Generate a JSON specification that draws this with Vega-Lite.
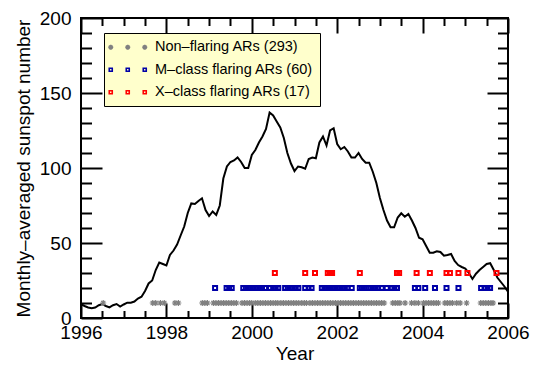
{
  "$schema": "https://vega.github.io/schema/vega-lite/v6.json",
  "width": 427,
  "height": 300,
  "autosize": "none",
  "padding": {"left": 81, "top": 18, "right": 26, "bottom": 47},
  "background": "white",
  "config": {
    "view": {"stroke": "black", "strokeWidth": 2},
    "font": "Liberation Sans",
    "axis": {"domain": false, "grid": false, "ticks": true, "tickColor": "black", "tickWidth": 2, "tickOpacity": 1, "labelColor": "black", "titleColor": "black", "labelFont": "Liberation Sans", "titleFont": "Liberation Sans", "labelFontSize": 19, "titleFontSize": 19, "titleFontWeight": "normal", "labelFlush": false, "labelOverlap": false, "zindex": 1}
  },
  "datasets": {
    "ssn": [
      {"t": 1996.000, "ssn": 9.3}, {"t": 1996.083, "ssn": 8}, {"t": 1996.167, "ssn": 7}, {"t": 1996.250, "ssn": 6.5},
      {"t": 1996.333, "ssn": 7}, {"t": 1996.417, "ssn": 8.5}, {"t": 1996.500, "ssn": 9.3}, {"t": 1996.583, "ssn": 8},
      {"t": 1996.667, "ssn": 7.1}, {"t": 1996.750, "ssn": 8.5}, {"t": 1996.833, "ssn": 9.3}, {"t": 1996.917, "ssn": 7.6},
      {"t": 1997.000, "ssn": 9}, {"t": 1997.083, "ssn": 10.2}, {"t": 1997.167, "ssn": 10.2}, {"t": 1997.250, "ssn": 11},
      {"t": 1997.333, "ssn": 13}, {"t": 1997.417, "ssn": 14.2}, {"t": 1997.500, "ssn": 18}, {"t": 1997.583, "ssn": 23},
      {"t": 1997.667, "ssn": 25}, {"t": 1997.750, "ssn": 32}, {"t": 1997.833, "ssn": 37}, {"t": 1997.917, "ssn": 36},
      {"t": 1998.000, "ssn": 35}, {"t": 1998.083, "ssn": 42}, {"t": 1998.167, "ssn": 45}, {"t": 1998.250, "ssn": 49},
      {"t": 1998.333, "ssn": 55}, {"t": 1998.417, "ssn": 61}, {"t": 1998.500, "ssn": 70}, {"t": 1998.583, "ssn": 76.4},
      {"t": 1998.667, "ssn": 76}, {"t": 1998.750, "ssn": 78}, {"t": 1998.833, "ssn": 79.8}, {"t": 1998.917, "ssn": 72},
      {"t": 1999.000, "ssn": 68}, {"t": 1999.083, "ssn": 71}, {"t": 1999.167, "ssn": 68.7}, {"t": 1999.250, "ssn": 75},
      {"t": 1999.333, "ssn": 93}, {"t": 1999.417, "ssn": 101}, {"t": 1999.500, "ssn": 104}, {"t": 1999.583, "ssn": 105},
      {"t": 1999.667, "ssn": 107}, {"t": 1999.750, "ssn": 104}, {"t": 1999.833, "ssn": 100}, {"t": 1999.917, "ssn": 100},
      {"t": 2000.000, "ssn": 108.7}, {"t": 2000.083, "ssn": 112}, {"t": 2000.167, "ssn": 117}, {"t": 2000.250, "ssn": 121},
      {"t": 2000.333, "ssn": 126}, {"t": 2000.417, "ssn": 137}, {"t": 2000.500, "ssn": 135}, {"t": 2000.583, "ssn": 131},
      {"t": 2000.667, "ssn": 127}, {"t": 2000.750, "ssn": 120}, {"t": 2000.833, "ssn": 110}, {"t": 2000.917, "ssn": 103},
      {"t": 2001.000, "ssn": 98}, {"t": 2001.083, "ssn": 101}, {"t": 2001.167, "ssn": 100.5}, {"t": 2001.250, "ssn": 99.5},
      {"t": 2001.333, "ssn": 106}, {"t": 2001.417, "ssn": 107}, {"t": 2001.500, "ssn": 106.5}, {"t": 2001.583, "ssn": 117},
      {"t": 2001.667, "ssn": 121}, {"t": 2001.750, "ssn": 115}, {"t": 2001.833, "ssn": 125}, {"t": 2001.917, "ssn": 126.5},
      {"t": 2002.000, "ssn": 116}, {"t": 2002.083, "ssn": 112.5}, {"t": 2002.167, "ssn": 114}, {"t": 2002.250, "ssn": 111},
      {"t": 2002.333, "ssn": 107}, {"t": 2002.417, "ssn": 107}, {"t": 2002.500, "ssn": 110}, {"t": 2002.583, "ssn": 106},
      {"t": 2002.667, "ssn": 103.5}, {"t": 2002.750, "ssn": 103.5}, {"t": 2002.833, "ssn": 97.5}, {"t": 2002.917, "ssn": 90},
      {"t": 2003.000, "ssn": 80}, {"t": 2003.083, "ssn": 72}, {"t": 2003.167, "ssn": 65}, {"t": 2003.250, "ssn": 60.5},
      {"t": 2003.333, "ssn": 60.5}, {"t": 2003.417, "ssn": 67}, {"t": 2003.500, "ssn": 69.8}, {"t": 2003.583, "ssn": 67.5},
      {"t": 2003.667, "ssn": 69.3}, {"t": 2003.750, "ssn": 65}, {"t": 2003.833, "ssn": 60}, {"t": 2003.917, "ssn": 53.5},
      {"t": 2004.000, "ssn": 52.5}, {"t": 2004.083, "ssn": 48}, {"t": 2004.167, "ssn": 43.5}, {"t": 2004.250, "ssn": 43.5},
      {"t": 2004.333, "ssn": 44.5}, {"t": 2004.417, "ssn": 44}, {"t": 2004.500, "ssn": 41.5}, {"t": 2004.583, "ssn": 42},
      {"t": 2004.667, "ssn": 42.7}, {"t": 2004.750, "ssn": 38}, {"t": 2004.833, "ssn": 35.3}, {"t": 2004.917, "ssn": 34},
      {"t": 2005.000, "ssn": 33}, {"t": 2005.083, "ssn": 30}, {"t": 2005.167, "ssn": 26}, {"t": 2005.250, "ssn": 29.5},
      {"t": 2005.333, "ssn": 32}, {"t": 2005.417, "ssn": 34}, {"t": 2005.500, "ssn": 36}, {"t": 2005.583, "ssn": 36.5},
      {"t": 2005.667, "ssn": 32}, {"t": 2005.750, "ssn": 27}, {"t": 2005.833, "ssn": 24}, {"t": 2005.917, "ssn": 21},
      {"t": 2006.000, "ssn": 17.5}
    ],
    "ars": [
      {"t": 1996.52, "v": 10, "c": "Non–flaring ARs (293)"},
      {"t": 1997.68, "v": 10, "c": "Non–flaring ARs (293)"}, {"t": 1997.75, "v": 10, "c": "Non–flaring ARs (293)"},
      {"t": 1997.86, "v": 10, "c": "Non–flaring ARs (293)"}, {"t": 1997.95, "v": 10, "c": "Non–flaring ARs (293)"},
      {"t": 1998.20, "v": 10, "c": "Non–flaring ARs (293)"}, {"t": 1998.28, "v": 10, "c": "Non–flaring ARs (293)"},
      {"t": 1998.84, "v": 10, "c": "Non–flaring ARs (293)"}, {"t": 1998.90, "v": 10, "c": "Non–flaring ARs (293)"},
      {"t": 1998.96, "v": 10, "c": "Non–flaring ARs (293)"},
      {"t": 1999.10, "v": 10, "c": "Non–flaring ARs (293)"}, {"t": 1999.16, "v": 10, "c": "Non–flaring ARs (293)"},
      {"t": 1999.22, "v": 10, "c": "Non–flaring ARs (293)"}, {"t": 1999.28, "v": 10, "c": "Non–flaring ARs (293)"},
      {"t": 1999.34, "v": 10, "c": "Non–flaring ARs (293)"}, {"t": 1999.40, "v": 10, "c": "Non–flaring ARs (293)"},
      {"t": 1999.46, "v": 10, "c": "Non–flaring ARs (293)"}, {"t": 1999.52, "v": 10, "c": "Non–flaring ARs (293)"},
      {"t": 1999.58, "v": 10, "c": "Non–flaring ARs (293)"}, {"t": 1999.64, "v": 10, "c": "Non–flaring ARs (293)"},
      {"t": 1999.77, "v": 10, "c": "Non–flaring ARs (293)"}, {"t": 1999.83, "v": 10, "c": "Non–flaring ARs (293)"},
      {"t": 1999.89, "v": 10, "c": "Non–flaring ARs (293)"}, {"t": 1999.95, "v": 10, "c": "Non–flaring ARs (293)"},
      {"t": 2000.00, "v": 10, "c": "Non–flaring ARs (293)"},
      {"t": 2000.08, "v": 10, "c": "Non–flaring ARs (293)"}, {"t": 2000.14, "v": 10, "c": "Non–flaring ARs (293)"},
      {"t": 2000.20, "v": 10, "c": "Non–flaring ARs (293)"}, {"t": 2000.26, "v": 10, "c": "Non–flaring ARs (293)"},
      {"t": 2000.32, "v": 10, "c": "Non–flaring ARs (293)"}, {"t": 2000.38, "v": 10, "c": "Non–flaring ARs (293)"},
      {"t": 2000.44, "v": 10, "c": "Non–flaring ARs (293)"}, {"t": 2000.50, "v": 10, "c": "Non–flaring ARs (293)"},
      {"t": 2000.56, "v": 10, "c": "Non–flaring ARs (293)"}, {"t": 2000.61, "v": 10, "c": "Non–flaring ARs (293)"},
      {"t": 2000.68, "v": 10, "c": "Non–flaring ARs (293)"}, {"t": 2000.74, "v": 10, "c": "Non–flaring ARs (293)"},
      {"t": 2000.80, "v": 10, "c": "Non–flaring ARs (293)"}, {"t": 2000.86, "v": 10, "c": "Non–flaring ARs (293)"},
      {"t": 2000.92, "v": 10, "c": "Non–flaring ARs (293)"}, {"t": 2000.98, "v": 10, "c": "Non–flaring ARs (293)"},
      {"t": 2001.04, "v": 10, "c": "Non–flaring ARs (293)"}, {"t": 2001.10, "v": 10, "c": "Non–flaring ARs (293)"},
      {"t": 2001.17, "v": 10, "c": "Non–flaring ARs (293)"}, {"t": 2001.23, "v": 10, "c": "Non–flaring ARs (293)"},
      {"t": 2001.28, "v": 10, "c": "Non–flaring ARs (293)"}, {"t": 2001.36, "v": 10, "c": "Non–flaring ARs (293)"},
      {"t": 2001.42, "v": 10, "c": "Non–flaring ARs (293)"}, {"t": 2001.48, "v": 10, "c": "Non–flaring ARs (293)"},
      {"t": 2001.54, "v": 10, "c": "Non–flaring ARs (293)"}, {"t": 2001.60, "v": 10, "c": "Non–flaring ARs (293)"},
      {"t": 2001.66, "v": 10, "c": "Non–flaring ARs (293)"}, {"t": 2001.72, "v": 10, "c": "Non–flaring ARs (293)"},
      {"t": 2001.78, "v": 10, "c": "Non–flaring ARs (293)"}, {"t": 2001.84, "v": 10, "c": "Non–flaring ARs (293)"},
      {"t": 2001.90, "v": 10, "c": "Non–flaring ARs (293)"}, {"t": 2001.96, "v": 10, "c": "Non–flaring ARs (293)"},
      {"t": 2002.02, "v": 10, "c": "Non–flaring ARs (293)"}, {"t": 2002.08, "v": 10, "c": "Non–flaring ARs (293)"},
      {"t": 2002.14, "v": 10, "c": "Non–flaring ARs (293)"}, {"t": 2002.20, "v": 10, "c": "Non–flaring ARs (293)"},
      {"t": 2002.26, "v": 10, "c": "Non–flaring ARs (293)"}, {"t": 2002.32, "v": 10, "c": "Non–flaring ARs (293)"},
      {"t": 2002.38, "v": 10, "c": "Non–flaring ARs (293)"}, {"t": 2002.44, "v": 10, "c": "Non–flaring ARs (293)"},
      {"t": 2002.50, "v": 10, "c": "Non–flaring ARs (293)"}, {"t": 2002.56, "v": 10, "c": "Non–flaring ARs (293)"},
      {"t": 2002.62, "v": 10, "c": "Non–flaring ARs (293)"}, {"t": 2002.68, "v": 10, "c": "Non–flaring ARs (293)"},
      {"t": 2002.74, "v": 10, "c": "Non–flaring ARs (293)"}, {"t": 2002.80, "v": 10, "c": "Non–flaring ARs (293)"},
      {"t": 2002.86, "v": 10, "c": "Non–flaring ARs (293)"}, {"t": 2002.92, "v": 10, "c": "Non–flaring ARs (293)"},
      {"t": 2002.98, "v": 10, "c": "Non–flaring ARs (293)"}, {"t": 2003.04, "v": 10, "c": "Non–flaring ARs (293)"},
      {"t": 2003.10, "v": 10, "c": "Non–flaring ARs (293)"},
      {"t": 2003.30, "v": 10, "c": "Non–flaring ARs (293)"}, {"t": 2003.36, "v": 10, "c": "Non–flaring ARs (293)"},
      {"t": 2003.42, "v": 10, "c": "Non–flaring ARs (293)"}, {"t": 2003.47, "v": 10, "c": "Non–flaring ARs (293)"},
      {"t": 2003.59, "v": 10, "c": "Non–flaring ARs (293)"}, {"t": 2003.74, "v": 10, "c": "Non–flaring ARs (293)"},
      {"t": 2003.82, "v": 10, "c": "Non–flaring ARs (293)"}, {"t": 2003.90, "v": 10, "c": "Non–flaring ARs (293)"},
      {"t": 2004.02, "v": 10, "c": "Non–flaring ARs (293)"}, {"t": 2004.08, "v": 10, "c": "Non–flaring ARs (293)"},
      {"t": 2004.14, "v": 10, "c": "Non–flaring ARs (293)"}, {"t": 2004.20, "v": 10, "c": "Non–flaring ARs (293)"},
      {"t": 2004.26, "v": 10, "c": "Non–flaring ARs (293)"}, {"t": 2004.32, "v": 10, "c": "Non–flaring ARs (293)"},
      {"t": 2004.37, "v": 10, "c": "Non–flaring ARs (293)"}, {"t": 2004.52, "v": 10, "c": "Non–flaring ARs (293)"},
      {"t": 2004.58, "v": 10, "c": "Non–flaring ARs (293)"}, {"t": 2004.64, "v": 10, "c": "Non–flaring ARs (293)"},
      {"t": 2004.70, "v": 10, "c": "Non–flaring ARs (293)"}, {"t": 2004.80, "v": 10, "c": "Non–flaring ARs (293)"},
      {"t": 2004.88, "v": 10, "c": "Non–flaring ARs (293)"}, {"t": 2005.03, "v": 10, "c": "Non–flaring ARs (293)"},
      {"t": 2005.36, "v": 10, "c": "Non–flaring ARs (293)"}, {"t": 2005.42, "v": 10, "c": "Non–flaring ARs (293)"},
      {"t": 2005.48, "v": 10, "c": "Non–flaring ARs (293)"}, {"t": 2005.54, "v": 10, "c": "Non–flaring ARs (293)"},
      {"t": 2005.60, "v": 10, "c": "Non–flaring ARs (293)"}, {"t": 2005.65, "v": 10, "c": "Non–flaring ARs (293)"},
      {"t": 1999.14, "v": 20, "c": "M–class flaring ARs (60)"}, {"t": 1999.41, "v": 20, "c": "M–class flaring ARs (60)"},
      {"t": 1999.47, "v": 20, "c": "M–class flaring ARs (60)"}, {"t": 1999.53, "v": 20, "c": "M–class flaring ARs (60)"},
      {"t": 1999.80, "v": 20, "c": "M–class flaring ARs (60)"}, {"t": 1999.86, "v": 20, "c": "M–class flaring ARs (60)"},
      {"t": 1999.92, "v": 20, "c": "M–class flaring ARs (60)"}, {"t": 1999.98, "v": 20, "c": "M–class flaring ARs (60)"},
      {"t": 2000.03, "v": 20, "c": "M–class flaring ARs (60)"}, {"t": 2000.11, "v": 20, "c": "M–class flaring ARs (60)"},
      {"t": 2000.17, "v": 20, "c": "M–class flaring ARs (60)"}, {"t": 2000.24, "v": 20, "c": "M–class flaring ARs (60)"},
      {"t": 2000.31, "v": 20, "c": "M–class flaring ARs (60)"}, {"t": 2000.43, "v": 20, "c": "M–class flaring ARs (60)"},
      {"t": 2000.50, "v": 20, "c": "M–class flaring ARs (60)"}, {"t": 2000.56, "v": 20, "c": "M–class flaring ARs (60)"},
      {"t": 2000.62, "v": 20, "c": "M–class flaring ARs (60)"}, {"t": 2000.78, "v": 20, "c": "M–class flaring ARs (60)"},
      {"t": 2000.84, "v": 20, "c": "M–class flaring ARs (60)"}, {"t": 2000.90, "v": 20, "c": "M–class flaring ARs (60)"},
      {"t": 2000.96, "v": 20, "c": "M–class flaring ARs (60)"}, {"t": 2001.03, "v": 20, "c": "M–class flaring ARs (60)"},
      {"t": 2001.09, "v": 20, "c": "M–class flaring ARs (60)"}, {"t": 2001.25, "v": 20, "c": "M–class flaring ARs (60)"},
      {"t": 2001.33, "v": 20, "c": "M–class flaring ARs (60)"}, {"t": 2001.40, "v": 20, "c": "M–class flaring ARs (60)"},
      {"t": 2001.64, "v": 20, "c": "M–class flaring ARs (60)"}, {"t": 2001.70, "v": 20, "c": "M–class flaring ARs (60)"},
      {"t": 2001.76, "v": 20, "c": "M–class flaring ARs (60)"}, {"t": 2001.82, "v": 20, "c": "M–class flaring ARs (60)"},
      {"t": 2001.88, "v": 20, "c": "M–class flaring ARs (60)"}, {"t": 2001.94, "v": 20, "c": "M–class flaring ARs (60)"},
      {"t": 2002.00, "v": 20, "c": "M–class flaring ARs (60)"}, {"t": 2002.06, "v": 20, "c": "M–class flaring ARs (60)"},
      {"t": 2002.12, "v": 20, "c": "M–class flaring ARs (60)"}, {"t": 2002.18, "v": 20, "c": "M–class flaring ARs (60)"},
      {"t": 2002.24, "v": 20, "c": "M–class flaring ARs (60)"}, {"t": 2002.34, "v": 20, "c": "M–class flaring ARs (60)"},
      {"t": 2002.53, "v": 20, "c": "M–class flaring ARs (60)"}, {"t": 2002.58, "v": 20, "c": "M–class flaring ARs (60)"},
      {"t": 2002.63, "v": 20, "c": "M–class flaring ARs (60)"}, {"t": 2002.68, "v": 20, "c": "M–class flaring ARs (60)"},
      {"t": 2002.73, "v": 20, "c": "M–class flaring ARs (60)"}, {"t": 2002.78, "v": 20, "c": "M–class flaring ARs (60)"},
      {"t": 2002.84, "v": 20, "c": "M–class flaring ARs (60)"}, {"t": 2002.90, "v": 20, "c": "M–class flaring ARs (60)"},
      {"t": 2002.96, "v": 20, "c": "M–class flaring ARs (60)"}, {"t": 2003.04, "v": 20, "c": "M–class flaring ARs (60)"},
      {"t": 2003.16, "v": 20, "c": "M–class flaring ARs (60)"}, {"t": 2003.28, "v": 20, "c": "M–class flaring ARs (60)"},
      {"t": 2003.34, "v": 20, "c": "M–class flaring ARs (60)"}, {"t": 2003.40, "v": 20, "c": "M–class flaring ARs (60)"},
      {"t": 2003.82, "v": 20, "c": "M–class flaring ARs (60)"}, {"t": 2003.90, "v": 20, "c": "M–class flaring ARs (60)"},
      {"t": 2004.06, "v": 20, "c": "M–class flaring ARs (60)"}, {"t": 2004.29, "v": 20, "c": "M–class flaring ARs (60)"},
      {"t": 2004.56, "v": 20, "c": "M–class flaring ARs (60)"}, {"t": 2004.84, "v": 20, "c": "M–class flaring ARs (60)"},
      {"t": 2005.37, "v": 20, "c": "M–class flaring ARs (60)"}, {"t": 2005.45, "v": 20, "c": "M–class flaring ARs (60)"},
      {"t": 2005.52, "v": 20, "c": "M–class flaring ARs (60)"}, {"t": 2005.58, "v": 20, "c": "M–class flaring ARs (60)"},
      {"t": 2000.54, "v": 30, "c": "X–class flaring ARs (17)"}, {"t": 2001.25, "v": 30, "c": "X–class flaring ARs (17)"},
      {"t": 2001.48, "v": 30, "c": "X–class flaring ARs (17)"}, {"t": 2001.78, "v": 30, "c": "X–class flaring ARs (17)"},
      {"t": 2001.83, "v": 30, "c": "X–class flaring ARs (17)"}, {"t": 2001.86, "v": 30, "c": "X–class flaring ARs (17)"},
      {"t": 2001.88, "v": 30, "c": "X–class flaring ARs (17)"}, {"t": 2002.53, "v": 30, "c": "X–class flaring ARs (17)"},
      {"t": 2003.40, "v": 30, "c": "X–class flaring ARs (17)"}, {"t": 2003.45, "v": 30, "c": "X–class flaring ARs (17)"},
      {"t": 2003.86, "v": 30, "c": "X–class flaring ARs (17)"}, {"t": 2004.17, "v": 30, "c": "X–class flaring ARs (17)"},
      {"t": 2004.56, "v": 30, "c": "X–class flaring ARs (17)"}, {"t": 2004.64, "v": 30, "c": "X–class flaring ARs (17)"},
      {"t": 2004.84, "v": 30, "c": "X–class flaring ARs (17)"}, {"t": 2005.05, "v": 30, "c": "X–class flaring ARs (17)"},
      {"t": 2005.73, "v": 30, "c": "X–class flaring ARs (17)"}
    ]
  },
  "layer": [
    {
      "data": {"name": "ssn"},
      "mark": {"type": "line", "color": "black", "strokeWidth": 2},
      "encoding": {
        "x": {"field": "t", "type": "quantitative", "scale": {"domain": [1996, 2006], "nice": false, "zero": false},
              "axis": {"orient": "bottom", "values": [1996, 1998, 2000, 2002, 2004, 2006], "offset": -15, "tickSize": 15,
                       "format": "d", "labelPadding": 5, "title": "Year", "titlePadding": 2}},
        "y": {"field": "ssn", "type": "quantitative", "scale": {"domain": [0, 200], "nice": false, "zero": true},
              "axis": {"orient": "left", "values": [0, 50, 100, 150, 200], "offset": -21, "tickSize": 21,
                       "labelPadding": 10, "title": "Monthly–averaged sunspot number", "titlePadding": 6}}
      }
    },
    {
      "data": {"name": "ars"},
      "transform": [{"filter": {"field": "v", "equal": 10}}],
      "mark": {"type": "point", "filled": false, "size": 36, "opacity": 1, "strokeWidth": 1.2,
               "shape": "M-1,0H1M0,-1V1M-0.7,-0.7L0.7,0.7M-0.7,0.7L0.7,-0.7"},
      "encoding": {
        "x": {"field": "t", "type": "quantitative",
              "axis": {"orient": "bottom", "values": [1996.5, 1997, 1997.5, 1998.5, 1999, 1999.5, 2000.5, 2001, 2001.5, 2002.5, 2003, 2003.5, 2004.5, 2005, 2005.5],
                       "offset": -7.5, "tickSize": 7.5, "labels": false, "title": null}},
        "y": {"field": "v", "type": "quantitative",
              "axis": {"orient": "left", "values": [10, 20, 30, 40, 60, 70, 80, 90, 110, 120, 130, 140, 160, 170, 180, 190],
                       "offset": -10.5, "tickSize": 10.5, "labels": false, "title": null}},
        "color": {"field": "c", "type": "nominal",
                  "scale": {"domain": ["Non–flaring ARs (293)", "M–class flaring ARs (60)", "X–class flaring ARs (17)"], "range": ["#808080", "#0000a8", "#ff0000"]}}
      }
    },
    {
      "data": {"name": "ars"},
      "transform": [{"filter": {"field": "v", "equal": 20}}],
      "mark": {"type": "point", "filled": false, "size": 36, "opacity": 1, "strokeWidth": 2,
               "shape": "M-0.67,-0.67H0.67V0.67H-0.67Z"},
      "encoding": {
        "x": {"field": "t", "type": "quantitative",
              "axis": {"orient": "top", "values": [1996, 1998, 2000, 2002, 2004, 2006], "offset": -15, "tickSize": 15, "labels": false, "title": null}},
        "y": {"field": "v", "type": "quantitative",
              "axis": {"orient": "right", "values": [0, 50, 100, 150, 200], "offset": -21, "tickSize": 21, "labels": false, "title": null}},
        "color": {"field": "c", "type": "nominal"}
      }
    },
    {
      "data": {"name": "ars"},
      "transform": [{"filter": {"field": "v", "equal": 30}}],
      "mark": {"type": "point", "filled": false, "size": 36, "opacity": 1, "strokeWidth": 2,
               "shape": "M-0.67,-0.67H0.67V0.67H-0.67Z"},
      "encoding": {
        "x": {"field": "t", "type": "quantitative",
              "axis": {"orient": "top", "values": [1996.5, 1997, 1997.5, 1998.5, 1999, 1999.5, 2000.5, 2001, 2001.5, 2002.5, 2003, 2003.5, 2004.5, 2005, 2005.5],
                       "offset": -7.5, "tickSize": 7.5, "labels": false, "title": null}},
        "y": {"field": "v", "type": "quantitative",
              "axis": {"orient": "right", "values": [10, 20, 30, 40, 60, 70, 80, 90, 110, 120, 130, 140, 160, 170, 180, 190],
                       "offset": -10.5, "tickSize": 10.5, "labels": false, "title": null}},
        "color": {"field": "c", "type": "nominal"}
      }
    },
    {
      "data": {"name": "ars"},
      "mark": {"type": "point", "filled": false, "size": 25, "opacity": 0},
      "encoding": {
        "x": {"field": "t", "type": "quantitative", "axis": null},
        "y": {"field": "v", "type": "quantitative", "axis": null},
        "color": {"field": "c", "type": "nominal",
                  "legend": {"orient": "none", "legendX": 23, "legendY": 15, "title": null, "fillColor": "#ffffcc", "strokeColor": "black",
                             "padding": 7, "rowPadding": 7.5, "labelFontSize": 14.5, "labelFont": "Liberation Sans", "labelColor": "black", "labelLimit": 0,
                             "symbolSize": 25, "symbolOffset": -7.5, "labelOffset": 37, "symbolStrokeWidth": 1.6, "symbolOpacity": 1}},
        "shape": {"field": "c", "type": "nominal",
                  "scale": {"domain": ["Non–flaring ARs (293)", "M–class flaring ARs (60)", "X–class flaring ARs (17)"],
                            "range": ["M-1,0H1M0,-1V1M-0.7,-0.7L0.7,0.7M-0.7,0.7L0.7,-0.7M5.8,0H7.8M6.8,-1V1M6.1,-0.7L7.5,0.7M6.1,0.7L7.5,-0.7M12.6,0H14.6M13.6,-1V1M12.9,-0.7L14.3,0.7M12.9,0.7L14.3,-0.7",
                                      "M-0.6,-0.6H0.6V0.6H-0.6ZM6.2,-0.6H7.4V0.6H6.2ZM13,-0.6H14.2V0.6H13Z",
                                      "M-0.6,-0.6H0.6V0.6H-0.6ZM6.2,-0.6H7.4V0.6H6.2ZM13,-0.6H14.2V0.6H13Z"]},
                  "legend": {"orient": "none", "legendX": 23, "legendY": 15, "title": null, "fillColor": "#ffffcc", "strokeColor": "black",
                             "padding": 7, "rowPadding": 7.5, "labelFontSize": 14.5, "labelFont": "Liberation Sans", "labelColor": "black", "labelLimit": 0,
                             "symbolSize": 25, "symbolOffset": -7.5, "labelOffset": 37, "symbolStrokeWidth": 1.6, "symbolOpacity": 1}}
      }
    }
  ],
  "resolve": {"axis": {"x": "independent", "y": "independent"}}
}
